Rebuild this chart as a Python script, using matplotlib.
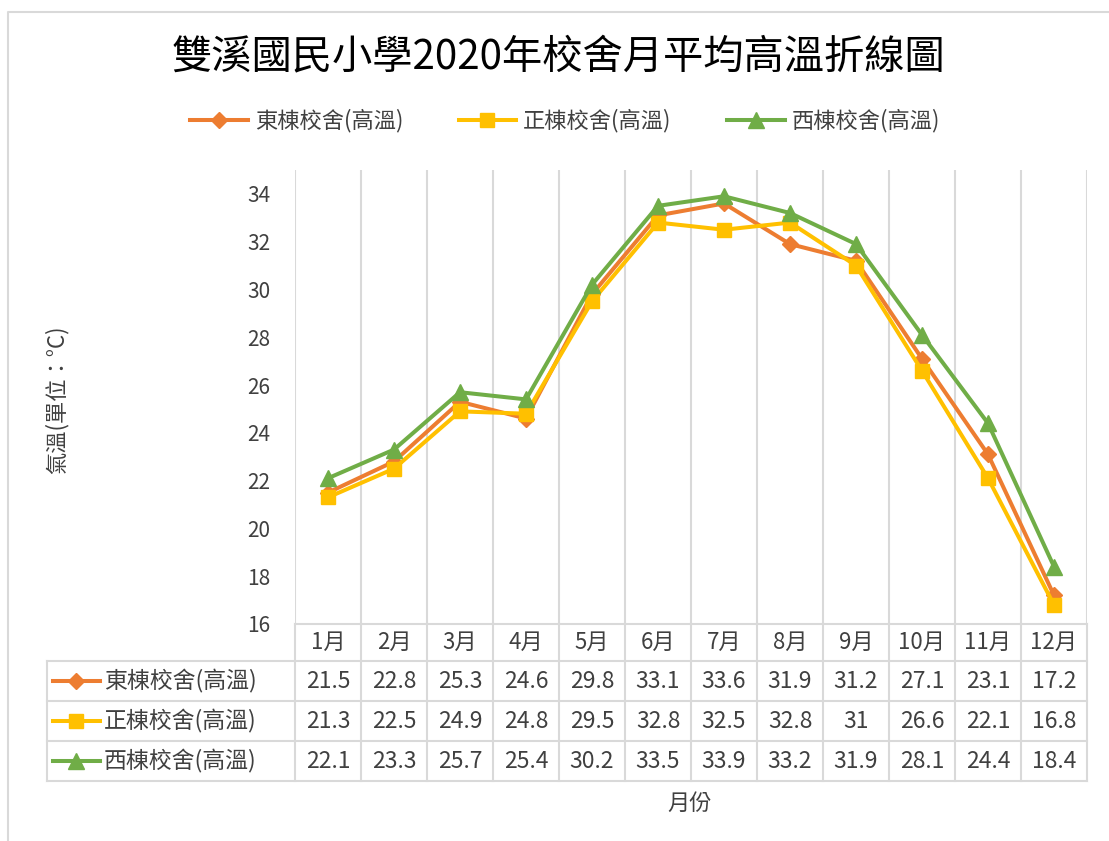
import matplotlib
matplotlib.use('Agg')
import matplotlib.pyplot as plt
from matplotlib.lines import Line2D
from matplotlib.transforms import blended_transform_factory

plt.rcParams['font.family'] = ['Noto Sans CJK TC', 'DejaVu Sans']

months = ['1月', '2月', '3月', '4月', '5月', '6月', '7月', '8月', '9月', '10月', '11月', '12月']
east = [21.5, 22.8, 25.3, 24.6, 29.8, 33.1, 33.6, 31.9, 31.2, 27.1, 23.1, 17.2]
main = [21.3, 22.5, 24.9, 24.8, 29.5, 32.8, 32.5, 32.8, 31, 26.6, 22.1, 16.8]
west = [22.1, 23.3, 25.7, 25.4, 30.2, 33.5, 33.9, 33.2, 31.9, 28.1, 24.4, 18.4]
names = ['東棟校舍(高溫)', '正棟校舍(高溫)', '西棟校舍(高溫)']
yticks = [16, 18, 20, 22, 24, 26, 28, 30, 32, 34]

colors = ['#ED7D31', '#FFC000', '#70AD47']
markers = ['D', 's', '^']
msizes = [8, 10, 11]
grid_c = '#D9D9D9'
txt_c = '#404040'

W, H = 1109, 841
fig = plt.figure(figsize=(W / 100, H / 100), dpi=100)


def fx(px):
    return px / W


def fy(py):
    return 1 - py / H


left, right, top, bottom = 295, 1087, 170, 624
ax = fig.add_axes([fx(left), fy(bottom), fx(right) - fx(left), fy(top) - fy(bottom)])

series = [east, main, west]
x = list(range(len(months)))
for vals, c, m, ms, n in zip(series, colors, markers, msizes, names):
    ax.plot(x, vals, color=c, lw=2.9, marker=m, ms=ms, label=n, clip_on=False, zorder=3)

ax.set_xlim(-0.5, len(months) - 0.5)
ax.set_ylim(16, 35)
ax.set_yticks(yticks)
ax.set_yticklabels([str(v) for v in yticks], fontsize=15, color=txt_c)
ax.set_xticks([])
ax.set_xticks([i - 0.5 for i in range(len(months) + 1)], minor=True)
ax.tick_params(axis='both', which='both', length=0, pad=18)
ax.grid(True, which='minor', axis='x', color=grid_c, lw=1.5)
for s in ['top', 'right', 'left']:
    ax.spines[s].set_visible(False)
ax.spines['bottom'].set_color(grid_c)
ax.spines['bottom'].set_linewidth(1.5)

# title, legend, axis titles
fig.text(fx(558), fy(57), '雙溪國民小學2020年校舍月平均高溫折線圖', ha='center', va='center',
         fontsize=29, color='black')
handles = [Line2D([], [], color=c, lw=2.9, marker=m, ms=ms)
           for c, m, ms in zip(colors, markers, msizes)]
fig.legend(handles, names, loc='center', bbox_to_anchor=(fx(565), fy(121)), ncol=3,
           frameon=False, fontsize=16, handlelength=2.6, columnspacing=2.5,
           handletextpad=0.3, labelcolor=txt_c)
fig.text(fx(57), fy(400), '氣溫(單位：°C)', rotation=90, ha='center', va='center',
         fontsize=16, color=txt_c)
fig.text(fx(690), fy(803), '月份', ha='center', va='center', fontsize=16, color=txt_c)

# data table
tr = blended_transform_factory(ax.transData, fig.transFigure)
hdr_bot, row_h = 661, 40
tbl_bot = hdr_bot + row_h * len(series)
for i in range(len(months) + 1):
    fig.add_artist(Line2D([i - 0.5, i - 0.5], [fy(bottom), fy(tbl_bot)], transform=tr,
                          color=grid_c, lw=1.5))
fig.add_artist(Line2D([fx(47), fx(47)], [fy(hdr_bot), fy(tbl_bot)],
                      transform=fig.transFigure, color=grid_c, lw=1.5))
for r in range(len(series) + 1):
    yy = fy(hdr_bot + r * row_h)
    fig.add_artist(Line2D([fx(47), fx(right)], [yy, yy], transform=fig.transFigure,
                          color=grid_c, lw=1.5))
for i, mth in enumerate(months):
    fig.text(i, fy(642), mth, transform=tr, ha='center', va='center', fontsize=16, color=txt_c)
for r, (vals, c, m, ms, n) in enumerate(zip(series, colors, markers, msizes, names)):
    yc = fy(hdr_bot + r * row_h + row_h / 2)
    fig.add_artist(Line2D([fx(53), fx(100)], [yc, yc], transform=fig.transFigure,
                          color=c, lw=2.9))
    fig.add_artist(Line2D([fx(76)], [yc], transform=fig.transFigure, color=c,
                          marker=m, ms=ms, lw=0))
    fig.text(fx(104), yc, n, ha='left', va='center', fontsize=16.5, color=txt_c)
    for i, v in enumerate(vals):
        fig.text(i, yc, f'{v:g}', transform=tr, ha='center', va='center', fontsize=16.5,
                 color=txt_c)

# chart border
fig.add_artist(Line2D([fx(8), fx(8), 1], [0, fy(12), fy(12)], transform=fig.transFigure,
                      color=grid_c, lw=1.5))

fig.savefig('out.png', dpi=100)
